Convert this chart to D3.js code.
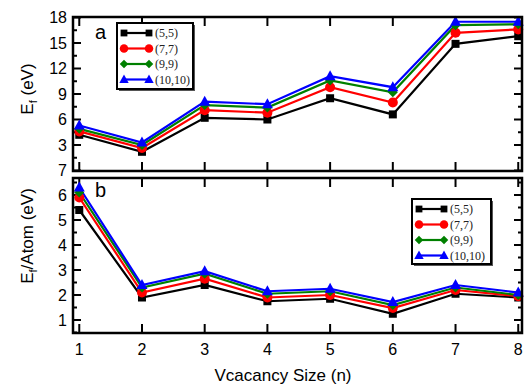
<!DOCTYPE html>
<html><head><meta charset="utf-8">
<script src="https://cdn.jsdelivr.net/npm/d3@7"></script>
<style>body{margin:0;background:#fff}svg{display:block}</style>
</head><body>
<svg id="c" width="526" height="384"></svg>
<script>
const sizes = [1,2,3,4,5,6,7,8];
const seriesNames = ["(5,5)","(7,7)","(9,9)","(10,10)"];
const seriesColors = ["#000000","#ff0000","#008000","#0000ff"];
const seriesShapes = ["square","circle","diamond","triangle"];
// Panel a: formation energy (eV)
const efA55   = [4.2, 2.2, 6.2, 6.0, 8.5, 6.6, 14.9, 15.8];
const efA77   = [4.6, 2.65, 7.1, 6.8, 9.8, 8.0, 16.2, 16.6];
const efA99   = [4.9, 3.0, 7.7, 7.4, 10.6, 9.2, 17.1, 17.2];
const efA1010 = [5.3, 3.3, 8.1, 7.8, 11.1, 9.8, 17.5, 17.5];
// Panel b: formation energy per atom (eV)
const efB55   = [5.4, 1.9, 2.4, 1.75, 1.85, 1.25, 2.05, 1.9];
const efB77   = [5.9, 2.1, 2.65, 1.9, 2.0, 1.48, 2.2, 1.95];
const efB99   = [6.1, 2.3, 2.85, 2.05, 2.15, 1.6, 2.3, 2.0];
const efB1010 = [6.3, 2.4, 2.95, 2.15, 2.25, 1.72, 2.4, 2.1];
const xTickLabels = ["1","2","3","4","5","6","7","8"];
const yTicksA = [0,3,6,9,12,15,18];
const yTickLabelsA = ["7","3","6","9","12","15","18"];
const yTicksB = [1,2,3,4,5,6];
const yTickLabelsB = ["1","2","3","4","5","6"];

const svg = d3.select("#c");
const FONT = "Liberation Sans, Arial, Helvetica, sans-serif";
const x = d3.scaleLinear().domain([0.9, 8.06]).range([73, 522]);

function marker(g, shape, color, cx, cy, s=1){
  if(shape==="square") g.append("rect").attr("x",cx-4*s).attr("y",cy-4*s).attr("width",8*s).attr("height",8*s).attr("fill",color);
  else if(shape==="circle") g.append("circle").attr("cx",cx).attr("cy",cy).attr("r",5*s).attr("fill",color);
  else if(shape==="diamond") g.append("path").attr("d",`M${cx},${cy-5*s}L${cx+5*s},${cy}L${cx},${cy+5*s}L${cx-5*s},${cy}Z`).attr("fill",color);
  else g.append("path").attr("d",`M${cx},${cy-6*s}L${cx+5.5*s},${cy+4*s}L${cx-5.5*s},${cy+4*s}Z`).attr("fill",color);
}

function panel(opts){
  const {y, data, ticks, labels, minorStep, top, bottom, letter, letterPos, legendPos} = opts;
  const g = svg.append("g");
  const [y0,y1] = y.domain();
  const minors = d3.range(Math.ceil(y0/minorStep)*minorStep, y1+1e-9, minorStep);
  minors.forEach(v=>{
    const yy = y(v);
    const major = ticks.some(t=>Math.abs(t-v)<1e-6);
    const len = major?8:4;
    g.append("line").attr("x1",73).attr("x2",73+len).attr("y1",yy).attr("y2",yy).attr("stroke","#000").attr("stroke-width",2);
    g.append("line").attr("x1",522).attr("x2",522-len).attr("y1",yy).attr("y2",yy).attr("stroke","#000").attr("stroke-width",2);
  });
  ticks.forEach((t,i)=>{
    g.append("text").attr("x",67).attr("y",y(t)).attr("dy","0.36em").attr("text-anchor","end")
      .attr("font-family",FONT).attr("font-size",16).text(labels[i]);
  });
  sizes.forEach(s=>{
    g.append("line").attr("x1",x(s)).attr("x2",x(s)).attr("y1",top).attr("y2",top+9).attr("stroke","#000").attr("stroke-width",2);
    g.append("line").attr("x1",x(s)).attr("x2",x(s)).attr("y1",bottom).attr("y2",bottom-9).attr("stroke","#000").attr("stroke-width",2);
  });
  const line = d3.line().x((d,i)=>x(sizes[i])).y(d=>y(d));
  data.forEach((arr,k)=>{
    g.append("path").attr("d",line(arr)).attr("fill","none").attr("stroke",seriesColors[k]).attr("stroke-width",2.2);
  });
  data.forEach((arr,k)=>{
    arr.forEach((v,i)=>marker(g,seriesShapes[k],seriesColors[k],x(sizes[i]),y(v)));
  });
  g.append("rect").attr("x",73).attr("y",top).attr("width",522-73).attr("height",bottom-top)
    .attr("fill","none").attr("stroke","#000").attr("stroke-width",2.5);
  g.append("text").attr("x",letterPos[0]).attr("y",letterPos[1]).attr("font-family",FONT).attr("font-size",20).text(letter);
  const [lx,ly,lw,lh] = legendPos;
  const lg = g.append("g");
  lg.append("rect").attr("x",lx+2).attr("y",ly+2).attr("width",lw).attr("height",lh).attr("fill","#555");
  lg.append("rect").attr("x",lx).attr("y",ly).attr("width",lw).attr("height",lh).attr("fill","#fff").attr("stroke","#000").attr("stroke-width",2);
  seriesNames.forEach((n,k)=>{
    const ry = ly+10+k*15.5;
    lg.append("line").attr("x1",lx+7).attr("x2",lx+32).attr("y1",ry).attr("y2",ry).attr("stroke",seriesColors[k]).attr("stroke-width",2.2);
    marker(lg,seriesShapes[k],seriesColors[k],lx+7,ry,0.85);
    marker(lg,seriesShapes[k],seriesColors[k],lx+32,ry,0.85);
    lg.append("text").attr("x",lx+38).attr("y",ry).attr("dy","0.35em").attr("font-family","Liberation Serif, Times New Roman, serif")
      .attr("font-size",12).attr("fill","#222").text(n);
  });
}

const yA = d3.scaleLinear().domain([0,18]).range([170.5,17.5]);
panel({y:yA, data:[efA55,efA77,efA99,efA1010], ticks:yTicksA, labels:yTickLabelsA, minorStep:1.5,
  top:17, bottom:171, letter:"a", letterPos:[95,39], legendPos:[117,23,76,66]});
const yB = d3.scaleLinear().domain([0.48,6.68]).range([333,178]);
panel({y:yB, data:[efB55,efB77,efB99,efB1010], ticks:yTicksB, labels:yTickLabelsB, minorStep:0.5,
  top:178, bottom:333, letter:"b", letterPos:[95,197], legendPos:[412,199,79,65]});

sizes.forEach((s,i)=>{
  svg.append("text").attr("x",x(s)).attr("y",355).attr("text-anchor","middle").attr("font-family",FONT).attr("font-size",16).text(xTickLabels[i]);
});
svg.append("text").attr("x",283).attr("y",381).attr("text-anchor","middle").attr("font-family",FONT).attr("font-size",17).text("Vcacancy Size (n)");
function ylabel(cy, rest){
  const t = svg.append("text").attr("transform",`translate(33,${cy}) rotate(-90)`).attr("text-anchor","middle")
    .attr("font-family",FONT).attr("font-size",17);
  t.append("tspan").text("E");
  t.append("tspan").attr("font-size",11).attr("dy",4).text("f");
  t.append("tspan").attr("dy",-4).text(rest);
}
ylabel(89, " (eV)");
ylabel(236, "/Atom (eV)");
</script>
</body></html>
